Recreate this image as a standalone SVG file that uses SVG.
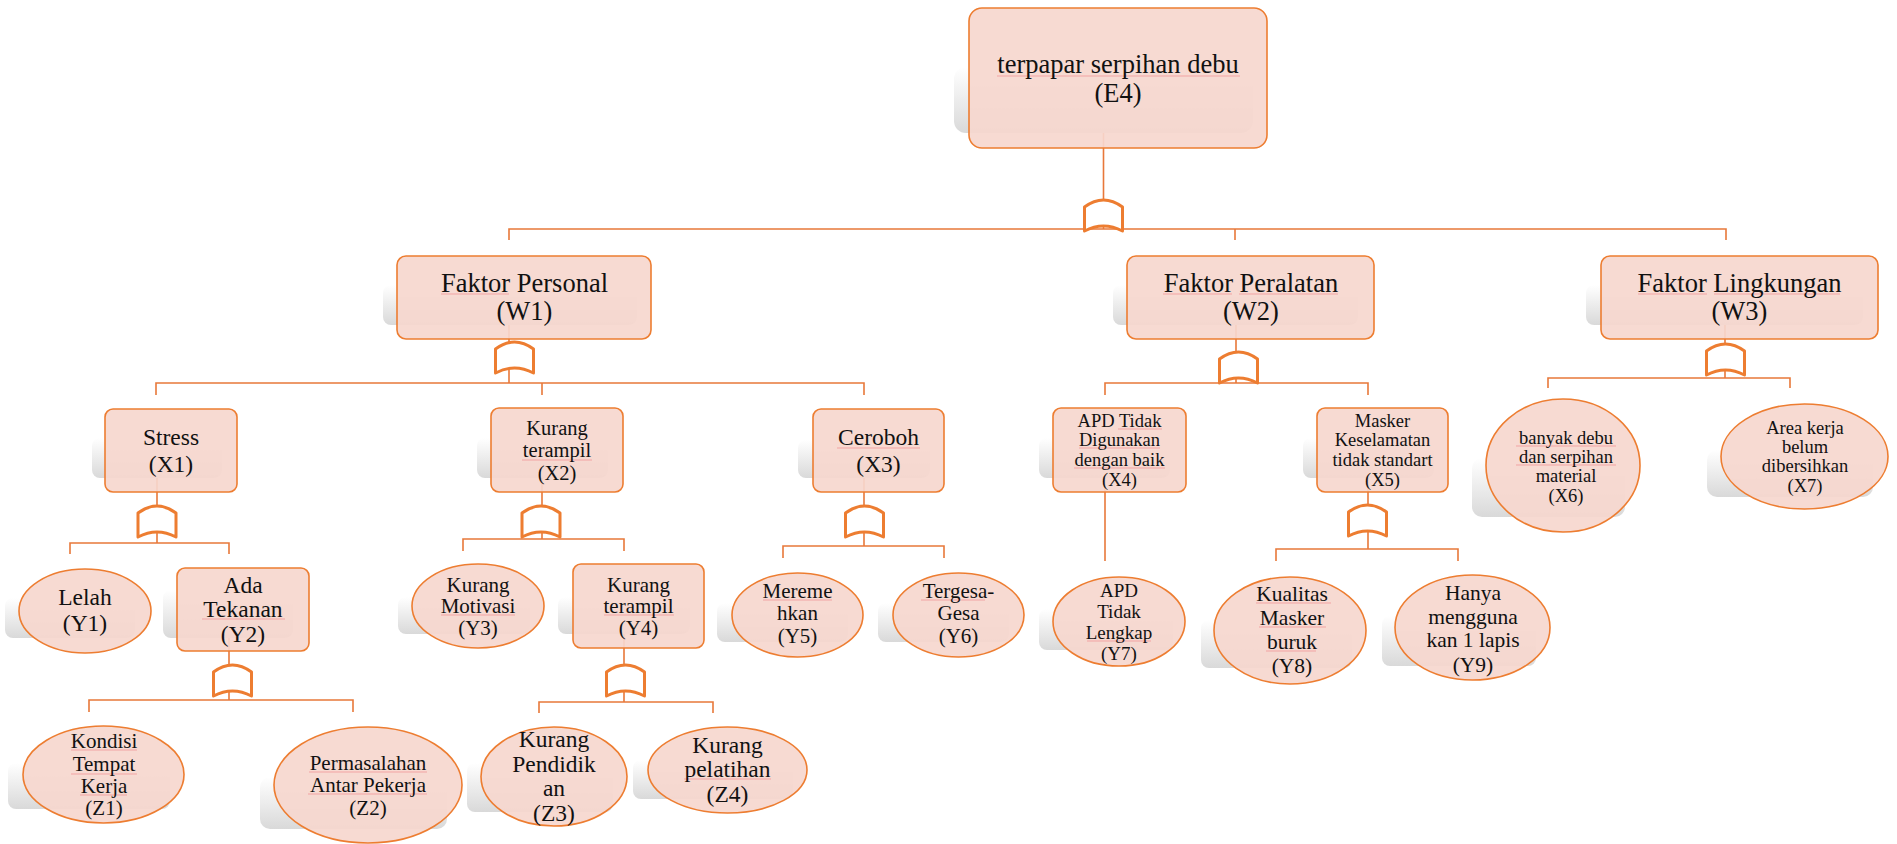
<svg xmlns="http://www.w3.org/2000/svg" xmlns:xlink="http://www.w3.org/1999/xlink" width="1897" height="844" viewBox="0 0 1897 844">
  <style>
    .shade { fill: url(#shadeGrad); }
    .box { fill: #f6d7ce; fill-opacity: 0.92; stroke: #ed7d31; stroke-width: 1.6; }
    .wire { fill: none; stroke: #e8783a; stroke-width: 1.6; }
    .gate { fill: #ffffff; stroke: #ed7d31; stroke-width: 3; stroke-linejoin: round; }
    .spell { fill: none; stroke: #f2a3a3; stroke-width: 1; }
    .label { font-family: 'Liberation Serif', 'DejaVu Serif', 'Times New Roman', serif; fill: #111111; text-anchor: middle; }
  </style>
  <defs>
    <linearGradient id="shadeGrad" x1="0" y1="0" x2="0" y2="1">
      <stop offset="0" stop-color="#ffffff"/>
      <stop offset="1" stop-color="#d9d9d9"/>
    </linearGradient>
    <!-- AND gate, 38 wide, 31 tall, origin at top centre -->
    <path id="gateShape" d="M-19,31 V7 Q0,-7 19,7 V31 Q0,21 -19,31 Z"/>
  </defs>

  <rect width="1897" height="844" fill="#ffffff"/>

  <!-- connectors -->
  <g id="connectors" class="wire">
    <path d="M1103.5,133 V229 M509,240 V229 H1726 V240 M1235,229 V240"/>
    <path d="M509,325 V383 M156,395 V383 H864 V395 M542,383 V395"/>
    <path d="M1236,325 V383 M1105,395 V383 H1368 V395"/>
    <path d="M1725,325 V378 M1548,388 V378 H1790 V388"/>
    <path d="M157,478 V543 M70,554 V543 H229 V554"/>
    <path d="M542,478 V539 M463,551 V539 H624 V551"/>
    <path d="M864,478 V546 M783,558 V546 H944 V558"/>
    <path d="M1105,478 V561"/>
    <path d="M1368,478 V549 M1276,561 V549 H1458 V561"/>
    <path d="M229,637 V700 M89,712 V700 H353 V712"/>
    <path d="M624,634 V702 M539,713 V702 H713 V713"/>
  </g>

  <!-- gates -->
  <g id="gates" class="gate">
    <use id="gate-E4" xlink:href="#gateShape" transform="translate(1103.5,200)"/>
    <use id="gate-W1" xlink:href="#gateShape" transform="translate(514.5,342)"/>
    <use id="gate-W2" xlink:href="#gateShape" transform="translate(1238.5,352)"/>
    <use id="gate-W3" xlink:href="#gateShape" transform="translate(1725.5,344)"/>
    <use id="gate-X1" xlink:href="#gateShape" transform="translate(157,506)"/>
    <use id="gate-X2" xlink:href="#gateShape" transform="translate(541,506)"/>
    <use id="gate-X3" xlink:href="#gateShape" transform="translate(864.5,506)"/>
    <use id="gate-X5" xlink:href="#gateShape" transform="translate(1367.5,505)"/>
    <use id="gate-Y2" xlink:href="#gateShape" transform="translate(232.5,665)"/>
    <use id="gate-Y4" xlink:href="#gateShape" transform="translate(625.5,665)"/>
  </g>

  <g font-family="'Liberation Serif', 'DejaVu Serif', serif">
  <!-- top event -->
  <g id="E4">
    <rect class="shade" x="954" y="67" width="299" height="66" rx="12"/>
    <rect class="box" x="969" y="8" width="298" height="140" rx="13"/>
    <path class="spell" d="M997,76 H1240"/>
    <text class="label" font-size="26.5"><tspan x="1118" y="73">terpapar serpihan debu</tspan><tspan x="1118" y="102">(E4)</tspan></text>
  </g>

  <!-- level W -->
  <g id="W1">
    <rect class="shade" x="383" y="285" width="254" height="40" rx="8"/>
    <rect class="box" x="397" y="256" width="254" height="83" rx="9"/>
    <path class="spell" d="M441,294 H509"/>
    <text class="label" font-size="26.5"><tspan x="524.5" y="292">Faktor Personal</tspan><tspan x="524.5" y="320">(W1)</tspan></text>
  </g>
  <g id="W2">
    <rect class="shade" x="1113" y="285" width="245" height="40" rx="8"/>
    <rect class="box" x="1127" y="256" width="247" height="83" rx="9"/>
    <path class="spell" d="M1163,294 H1232 M1239,294 H1338"/>
    <text class="label" font-size="26.5"><tspan x="1251" y="292">Faktor Peralatan</tspan><tspan x="1251" y="320">(W2)</tspan></text>
  </g>
  <g id="W3">
    <rect class="shade" x="1586" y="285" width="277" height="40" rx="8"/>
    <rect class="box" x="1601" y="256" width="277" height="83" rx="9"/>
    <path class="spell" d="M1638,294 H1707 M1714,294 H1840"/>
    <text class="label" font-size="26.5"><tspan x="1739.5" y="292">Faktor Lingkungan</tspan><tspan x="1739.5" y="320">(W3)</tspan></text>
  </g>

  <!-- level X -->
  <g id="X1">
    <rect class="shade" x="92" y="438" width="130" height="40" rx="8"/>
    <rect class="box" x="105" y="409" width="132" height="83" rx="8"/>
    <text class="label" font-size="23.5"><tspan x="171" y="445">Stress</tspan><tspan x="171" y="472">(X1)</tspan></text>
  </g>
  <g id="X2">
    <rect class="shade" x="477" y="438" width="131" height="40" rx="8"/>
    <rect class="box" x="491" y="408" width="132" height="84" rx="8"/>
    <path class="spell" d="M522,460 H592"/>
    <text class="label" font-size="20.5"><tspan x="557" y="435">Kurang</tspan><tspan x="557" y="457">terampil</tspan><tspan x="557" y="480">(X2)</tspan></text>
  </g>
  <g id="X3">
    <rect class="shade" x="798" y="440" width="132" height="38" rx="8"/>
    <rect class="box" x="813" y="409" width="131" height="83" rx="8"/>
    <path class="spell" d="M837,448 H920"/>
    <text class="label" font-size="23.5"><tspan x="878.5" y="445">Ceroboh</tspan><tspan x="878.5" y="472">(X3)</tspan></text>
  </g>
  <g id="X4">
    <rect class="shade" x="1039" y="438" width="131" height="40" rx="8"/>
    <rect class="box" x="1053" y="408" width="133" height="84" rx="8"/>
    <path class="spell" d="M1118,429 H1162 M1079,448 H1160 M1074,468 H1165"/>
    <text class="label" font-size="18.5"><tspan x="1119.5" y="427">APD Tidak</tspan><tspan x="1119.5" y="446">Digunakan</tspan><tspan x="1119.5" y="466">dengan baik</tspan><tspan x="1119.5" y="486">(X4)</tspan></text>
  </g>
  <g id="X5">
    <rect class="shade" x="1303" y="438" width="131" height="40" rx="8"/>
    <rect class="box" x="1317" y="408" width="131" height="84" rx="8"/>
    <text class="label" font-size="18.5"><tspan x="1382.5" y="427">Masker</tspan><tspan x="1382.5" y="446">Keselamatan</tspan><tspan x="1382.5" y="466">tidak standart</tspan><tspan x="1382.5" y="486">(X5)</tspan></text>
  </g>
  <g id="X6">
    <rect class="shade" x="1472" y="458" width="153" height="59" rx="10"/>
    <ellipse class="box" cx="1563" cy="465.5" rx="77" ry="66.5"/>
    <path class="spell" d="M1516,446 H1616 M1516,465 H1616"/>
    <text class="label" font-size="18.5"><tspan x="1566" y="444">banyak debu</tspan><tspan x="1566" y="463">dan serpihan</tspan><tspan x="1566" y="482">material</tspan><tspan x="1566" y="502">(X6)</tspan></text>
  </g>
  <g id="X7">
    <rect class="shade" x="1707" y="450" width="166" height="47" rx="10"/>
    <ellipse class="box" cx="1804.5" cy="456.5" rx="83.5" ry="52.5"/>
    <text class="label" font-size="18.5"><tspan x="1805" y="434">Area kerja</tspan><tspan x="1805" y="453">belum</tspan><tspan x="1805" y="472">dibersihkan</tspan><tspan x="1805" y="492">(X7)</tspan></text>
  </g>

  <!-- level Y -->
  <g id="Y1">
    <rect class="shade" x="5" y="598" width="130" height="40" rx="8"/>
    <ellipse class="box" cx="85" cy="611" rx="66" ry="42"/>
    <text class="label" font-size="23.5"><tspan x="85" y="605">Lelah</tspan><tspan x="85" y="631">(Y1)</tspan></text>
  </g>
  <g id="Y2">
    <rect class="shade" x="163" y="590" width="130" height="48" rx="8"/>
    <rect class="box" x="177" y="568" width="132" height="83" rx="8"/>
    <path class="spell" d="M202,619 H285"/>
    <text class="label" font-size="23.5"><tspan x="243" y="593">Ada</tspan><tspan x="243" y="617">Tekanan</tspan><tspan x="243" y="642">(Y2)</tspan></text>
  </g>
  <g id="Y3">
    <rect class="shade" x="398" y="597" width="132" height="37" rx="8"/>
    <ellipse class="box" cx="478" cy="606" rx="66" ry="42"/>
    <path class="spell" d="M441,615 H515"/>
    <text class="label" font-size="21"><tspan x="478" y="592">Kurang</tspan><tspan x="478" y="613">Motivasi</tspan><tspan x="478" y="635">(Y3)</tspan></text>
  </g>
  <g id="Y4">
    <rect class="shade" x="558" y="597" width="132" height="37" rx="8"/>
    <rect class="box" x="573" y="564" width="131" height="84" rx="8"/>
    <path class="spell" d="M604,615 H674"/>
    <text class="label" font-size="21"><tspan x="638.5" y="592">Kurang</tspan><tspan x="638.5" y="613">terampil</tspan><tspan x="638.5" y="635">(Y4)</tspan></text>
  </g>
  <g id="Y5">
    <rect class="shade" x="717" y="603" width="131" height="39" rx="8"/>
    <ellipse class="box" cx="797.5" cy="615" rx="65.5" ry="42"/>
    <path class="spell" d="M763,600 H832"/>
    <text class="label" font-size="21"><tspan x="797.5" y="598">Mereme</tspan><tspan x="797.5" y="620">hkan</tspan><tspan x="797.5" y="643">(Y5)</tspan></text>
  </g>
  <g id="Y6">
    <rect class="shade" x="878" y="603" width="131" height="39" rx="8"/>
    <ellipse class="box" cx="958.5" cy="615" rx="65.5" ry="42"/>
    <path class="spell" d="M921,600 H985"/>
    <text class="label" font-size="21"><tspan x="958.5" y="598">Tergesa-</tspan><tspan x="958.5" y="620">Gesa</tspan><tspan x="958.5" y="643">(Y6)</tspan></text>
  </g>
  <g id="Y7">
    <rect class="shade" x="1039" y="609" width="134" height="41" rx="8"/>
    <ellipse class="box" cx="1119" cy="621.5" rx="66" ry="44.5"/>
    <path class="spell" d="M1087,641 H1151"/>
    <text class="label" font-size="19"><tspan x="1119" y="597">APD</tspan><tspan x="1119" y="618">Tidak</tspan><tspan x="1119" y="639">Lengkap</tspan><tspan x="1119" y="660">(Y7)</tspan></text>
  </g>
  <g id="Y8">
    <rect class="shade" x="1201" y="620" width="151" height="48" rx="8"/>
    <ellipse class="box" cx="1290" cy="630.5" rx="76" ry="53.5"/>
    <path class="spell" d="M1256,603 H1331 M1259,627 H1326 M1266,651 H1316"/>
    <text class="label" font-size="21.5"><tspan x="1292" y="601">Kualitas</tspan><tspan x="1292" y="625">Masker</tspan><tspan x="1292" y="649">buruk</tspan><tspan x="1292" y="673">(Y8)</tspan></text>
  </g>
  <g id="Y9">
    <rect class="shade" x="1382" y="616" width="154" height="50" rx="8"/>
    <ellipse class="box" cx="1472.5" cy="627.5" rx="77.5" ry="52.5"/>
    <text class="label" font-size="21.5"><tspan x="1473" y="600">Hanya</tspan><tspan x="1473" y="624">mengguna</tspan><tspan x="1473" y="647">kan 1 lapis</tspan><tspan x="1473" y="672">(Y9)</tspan></text>
  </g>

  <!-- level Z -->
  <g id="Z1">
    <rect class="shade" x="8" y="763" width="162" height="46" rx="8"/>
    <ellipse class="box" cx="103.5" cy="774.5" rx="80.5" ry="48.5"/>
    <path class="spell" d="M71,750 H137 M71,774 H137 M80,795 H127"/>
    <text class="label" font-size="21"><tspan x="104" y="748">Kondisi</tspan><tspan x="104" y="771">Tempat</tspan><tspan x="104" y="793">Kerja</tspan><tspan x="104" y="815">(Z1)</tspan></text>
  </g>
  <g id="Z2">
    <rect class="shade" x="260" y="777" width="187" height="52" rx="10"/>
    <ellipse class="box" cx="368" cy="785" rx="94" ry="58"/>
    <path class="spell" d="M309,772 H427 M308,794 H427"/>
    <text class="label" font-size="21"><tspan x="368" y="770">Permasalahan</tspan><tspan x="368" y="792">Antar Pekerja</tspan><tspan x="368" y="815">(Z2)</tspan></text>
  </g>
  <g id="Z3">
    <rect class="shade" x="467" y="763" width="146" height="49" rx="8"/>
    <ellipse class="box" cx="554" cy="776.5" rx="73" ry="49.5"/>
    <text class="label" font-size="23.5"><tspan x="554" y="747">Kurang</tspan><tspan x="554" y="772">Pendidik</tspan><tspan x="554" y="796">an</tspan><tspan x="554" y="821">(Z3)</tspan></text>
  </g>
  <g id="Z4">
    <rect class="shade" x="633" y="760" width="160" height="39" rx="8"/>
    <ellipse class="box" cx="727.5" cy="770" rx="79.5" ry="43"/>
    <path class="spell" d="M684,779 H771"/>
    <text class="label" font-size="23.5"><tspan x="727.5" y="753">Kurang</tspan><tspan x="727.5" y="777">pelatihan</tspan><tspan x="727.5" y="802">(Z4)</tspan></text>
  </g>
  </g>
</svg>
